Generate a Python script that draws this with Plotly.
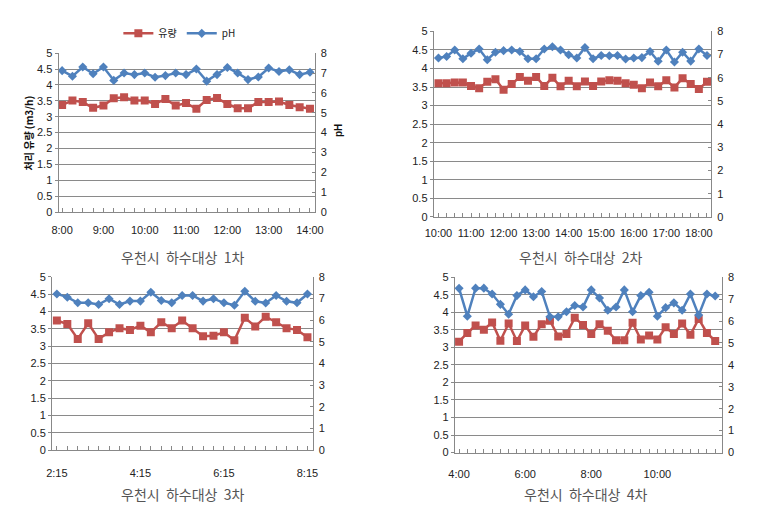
import plotly.graph_objects as go

W, H = 764, 511

def times(start_h, start_m, n):
    out = []
    t = start_h * 60 + start_m
    for i in range(n):
        m = t + 15 * i
        out.append(f"{m // 60}:{m % 60:02d}")
    return out

# ---- Panel 1 (8:00 - 14:00) ----
t1 = times(8, 0, 25)
flow1 = [3.37, 3.51, 3.46, 3.28, 3.35, 3.58, 3.61, 3.51, 3.51, 3.40, 3.56, 3.35, 3.43,
         3.25, 3.53, 3.59, 3.40, 3.27, 3.27, 3.46, 3.46, 3.48, 3.37, 3.30, 3.25]
ph1 = [7.12, 6.84, 7.30, 6.96, 7.30, 6.63, 7.00, 6.92, 7.00, 6.79, 6.87, 7.00, 6.92,
       7.20, 6.59, 6.92, 7.28, 7.00, 6.67, 6.80, 7.25, 7.08, 7.16, 6.92, 7.04]
lab1 = ["8:00", "9:00", "10:00", "11:00", "12:00", "13:00", "14:00"]

# ---- Panel 2 (10:00 - 18:15) ----
t2 = times(10, 0, 34)
flow2 = [3.60, 3.60, 3.62, 3.62, 3.53, 3.47, 3.64, 3.71, 3.43, 3.58, 3.77, 3.67, 3.77,
         3.53, 3.75, 3.52, 3.67, 3.52, 3.65, 3.53, 3.65, 3.68, 3.67, 3.60, 3.56, 3.47,
         3.62, 3.52, 3.68, 3.49, 3.74, 3.58, 3.45, 3.64]
ph2 = [6.85, 6.92, 7.20, 6.82, 7.06, 7.24, 6.78, 7.10, 7.17, 7.20, 7.13, 6.82, 6.82,
       7.24, 7.34, 7.20, 6.99, 6.85, 7.30, 6.82, 6.96, 6.95, 6.96, 6.81, 6.85, 6.87,
       7.13, 6.71, 7.20, 6.68, 7.10, 6.72, 7.24, 6.96]
lab2 = ["10:00", "11:00", "12:00", "13:00", "14:00", "15:00", "16:00", "17:00", "18:00"]

# ---- Panel 3 (2:15 - 8:15) ----
t3 = times(2, 15, 25)
flow3 = [3.74, 3.64, 3.21, 3.66, 3.21, 3.40, 3.52, 3.47, 3.59, 3.40, 3.69, 3.52, 3.74,
         3.52, 3.29, 3.30, 3.40, 3.17, 3.82, 3.57, 3.85, 3.69, 3.52, 3.47, 3.26]
ph3 = [7.21, 7.06, 6.80, 6.80, 6.72, 6.99, 6.72, 6.88, 6.88, 7.29, 6.91, 6.80, 7.14,
       7.14, 6.88, 6.99, 6.80, 6.69, 7.33, 6.87, 6.79, 7.14, 6.87, 6.80, 7.21]
lab3 = ["2:15", "4:15", "6:15", "8:15"]

# ---- Panel 4 (4:00 - 11:45) ----
t4 = times(4, 0, 32)
flow4 = [3.16, 3.41, 3.62, 3.50, 3.71, 3.19, 3.68, 3.18, 3.62, 3.30, 3.66, 3.76, 3.31,
         3.38, 3.84, 3.64, 3.38, 3.66, 3.47, 3.20, 3.20, 3.70, 3.22, 3.34, 3.22, 3.57,
         3.38, 3.68, 3.36, 3.81, 3.41, 3.18]
ph4 = [7.49, 6.22, 7.50, 7.50, 7.23, 6.76, 6.31, 7.16, 7.42, 7.11, 7.35, 6.19, 6.19,
       6.42, 6.71, 6.64, 7.42, 7.05, 6.49, 6.64, 7.42, 6.42, 7.16, 7.31, 6.22, 6.61,
       6.83, 6.49, 7.23, 6.27, 7.23, 7.14]
lab4 = ["4:00", "6:00", "8:00", "10:00"]

SP = "\u00a0\u00a0"
captions = [f"우천시{SP}하수대상{SP}1차", f"우천시{SP}하수대상{SP}2차",
            f"우천시{SP}하수대상{SP}3차", f"우천시{SP}하수대상{SP}4차"]

RED = "#C0504D"
BLUE = "#4F81BD"
FONT = "Liberation Sans, Arial, sans-serif"
KFONT = "Noto Sans CJK KR, sans-serif"

# pixel geometry: (x0, x1, ytop, ybottom), x range, caption centre, x label standoff
panels = [
    (t1, flow1, ph1, lab1, (50.7, 313, 48.3, 211), (-0.35, 24.45), 178, 257, 8),
    (t2, flow2, ph2, lab2, (435, 719, 26, 216), (-0.58, 33.5), 585, 257, 6),
    (t3, flow3, ph3, lab3, (44, 311, 277.3, 455), (-0.47, 24.5), 178, 500, 12),
    (t4, flow4, ph4, lab4, (456.7, 730, 277.7, 457.3), (-0.5, 31.8), 590, 500, 11),
]

fig = go.Figure()
annotations = []
for i, (t, fl, ph, labs, (x0, x1, yt, yb), xr, cx, cy, so) in enumerate(panels):
    n = i + 1
    xa = f"x{n}" if n > 1 else "x"
    ya = f"y{2*n-1}" if n > 1 else "y"
    ya2 = f"y{2*n}"
    idx = list(range(len(t)))
    fig.add_trace(go.Scatter(x=idx, y=fl, mode="lines+markers", name="유량",
                             line=dict(color=RED, width=2.5),
                             marker=dict(symbol="square", size=8, color=RED),
                             xaxis=xa, yaxis=ya, showlegend=(n == 1),
                             legendrank=1))
    fig.add_trace(go.Scatter(x=idx, y=ph, mode="lines+markers", name="pH",
                             line=dict(color=BLUE, width=2.5),
                             marker=dict(symbol="diamond", size=7, color=BLUE),
                             xaxis=xa, yaxis=ya2, showlegend=(n == 1),
                             legendrank=2))
    dom_x = [x0 / W, x1 / W]
    dom_y = [1 - yb / H, 1 - yt / H]
    ticktext = [s if s in labs else "" for s in t]
    xkey = "xaxis" if n == 1 else f"xaxis{n}"
    ykey = "yaxis" if n == 1 else f"yaxis{2*n-1}"
    y2key = f"yaxis{2*n}"
    fig.layout[xkey] = dict(domain=dom_x, anchor=ya, range=list(xr),
                            tickmode="array", tickvals=idx, ticktext=ticktext,
                            ticks="inside", ticklen=4, tickcolor="#888",
                            ticklabelstandoff=so,
                            showline=True, linecolor="#888", linewidth=1,
                            showgrid=False, zeroline=False,
                            tickfont=dict(family=FONT, size=11, color="#222"))
    fig.layout[ykey] = dict(domain=dom_y, anchor=xa, range=[0, 5],
                            tickmode="array", tickvals=[0, 0.5, 1, 1.5, 2, 2.5, 3, 3.5, 4, 4.5, 5],
                            ticktext=["0", "0.5", "1", "1.5", "2", "2.5", "3", "3.5", "4", "4.5", "5"],
                            ticks="outside", ticklen=3, tickcolor="#888",
                            showline=True, linecolor="#888", linewidth=1,
                            showgrid=True, gridcolor="#8a8a8a", gridwidth=1,
                            zeroline=False,
                            tickfont=dict(family=FONT, size=11, color="#222"))
    fig.layout[y2key] = dict(overlaying=ya, side="right", anchor=xa, range=[0, 8],
                             tickmode="array", tickvals=list(range(9)),
                             ticks="inside", ticklen=3, tickcolor="#888",
                             ticklabelstandoff=3,
                             showline=True, linecolor="#888", linewidth=1,
                             showgrid=False, zeroline=False,
                             tickfont=dict(family=FONT, size=11, color="#222"))
    annotations.append(dict(text=captions[i], x=cx / W, y=1 - cy / H, xref="paper", yref="paper",
                            showarrow=False, xanchor="center", yanchor="middle",
                            font=dict(family=KFONT, size=14, color="#555")))

annotations.append(dict(text="<b>처리 유량 (m3/h)</b>", x=20 / W, y=1 - 130 / H, xref="paper", yref="paper",
                        showarrow=False, textangle=-90, xanchor="center", yanchor="middle",
                        font=dict(family=KFONT, size=10, color="#111")))
annotations.append(dict(text="<b>pH</b>", x=338 / W, y=1 - 128 / H, xref="paper", yref="paper",
                        showarrow=False, textangle=-90, xanchor="center", yanchor="middle",
                        font=dict(family=FONT, size=10, color="#111")))

fig.update_layout(
    width=W, height=H, margin=dict(l=0, r=0, t=0, b=0),
    paper_bgcolor="white", plot_bgcolor="white",
    annotations=annotations,
    showlegend=True,
    legend=dict(orientation="h", x=112 / W, y=1 - 28 / H, xanchor="left", yanchor="middle",
                font=dict(family=KFONT, size=10, color="#222"),
                bgcolor="rgba(0,0,0,0)", itemwidth=30, tracegroupgap=0,
                traceorder="normal"),
)

fig.write_html("out.html", config={"displayModeBar": False},
               post_script="document.body.style.margin='0';document.body.style.padding='0';"
                           "document.body.style.overflow='hidden';")
